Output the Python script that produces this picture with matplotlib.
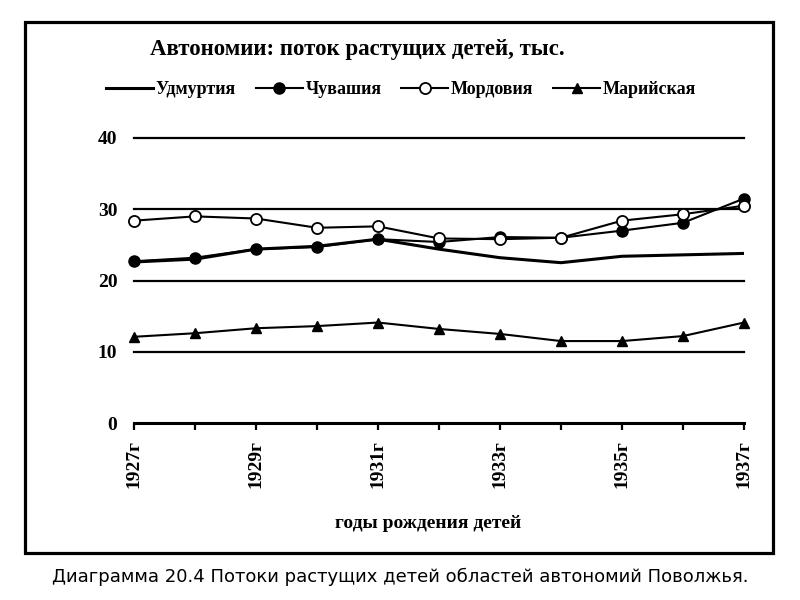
import matplotlib
matplotlib.use("Agg")
import matplotlib.pyplot as plt
from matplotlib.patches import Rectangle

years = [1927, 1928, 1929, 1930, 1931, 1932, 1933, 1934, 1935, 1936, 1937]
udmurtia = [22.6, 23.0, 24.4, 24.8, 25.8, 24.4, 23.2, 22.5, 23.4, 23.6, 23.8]
chuvashia = [22.7, 23.2, 24.4, 24.7, 25.8, 25.4, 26.1, 26.0, 27.0, 28.1, 31.5]
mordovia = [28.4, 29.0, 28.7, 27.4, 27.6, 25.9, 25.8, 26.0, 28.4, 29.3, 30.5]
mariy = [12.1, 12.6, 13.3, 13.6, 14.1, 13.2, 12.5, 11.5, 11.5, 12.2, 14.1]

series_names = ["Удмуртия", "Чувашия", "Мордовия", "Марийская"]
yticks = [0, 10, 20, 30, 40]
xlabels = [f"{y}г" if y % 2 == 1 else "" for y in years]

title = "Автономии: поток растущих детей, тыс."
xlabel = "годы рождения детей"
caption = "Диаграмма 20.4 Потоки растущих детей областей автономий Поволжья."

serif = "Liberation Serif"

fig = plt.figure(figsize=(8, 6), dpi=100)
ax = fig.add_axes([0.1675, 0.295, 0.7625, 0.475])

# horizontal grid lines drawn as solid black rules
for v in yticks[1:]:
    ax.axhline(v, color="black", lw=1.6, zorder=1, clip_on=False)

h1, = ax.plot(years, udmurtia, "-", color="black", lw=2.2, zorder=3)
h2, = ax.plot(years, chuvashia, "o-", color="black", lw=1.5, ms=8,
              mfc="black", zorder=4, clip_on=False)
h3, = ax.plot(years, mordovia, "o-", color="black", lw=1.5, ms=8,
              mfc="white", mew=1.3, zorder=5, clip_on=False)
h4, = ax.plot(years, mariy, "^-", color="black", lw=1.5, ms=7.5,
              mfc="black", zorder=4, clip_on=False)

ax.set_xlim(years[0], years[-1])
ax.set_ylim(0, 40)
for side in ["left", "right", "top"]:
    ax.spines[side].set_visible(False)
ax.spines["bottom"].set_linewidth(2.2)

ax.set_yticks(yticks)
ax.set_yticklabels([str(v) for v in yticks], fontfamily=serif,
                   fontweight="bold", fontsize=14)
ax.tick_params(axis="y", length=0, pad=12)

ax.set_xticks(years)
ax.set_xticklabels(xlabels, rotation=90, fontfamily=serif,
                   fontweight="bold", fontsize=14)
ax.tick_params(axis="x", direction="out", length=5, width=1.6, pad=7)

fig.text(357 / 800, 1 - 50 / 600, title, ha="center", va="center",
         fontfamily=serif, fontweight="bold", fontsize=16.5)

fig.legend([h1, h2, h3, h4], series_names, loc="center",
           bbox_to_anchor=(401 / 800, 1 - 90 / 600), ncol=4, frameon=False,
           prop={"family": serif, "weight": "bold", "size": 13},
           handlelength=2.6, handletextpad=0.15, columnspacing=1.1)

fig.text(428 / 800, 1 - 523 / 600, xlabel, ha="center", va="center",
         fontfamily=serif, fontweight="bold", fontsize=14)

fig.add_artist(Rectangle((25 / 800, 1 - 553 / 600), 748 / 800, 531 / 600,
                         transform=fig.transFigure, fill=False,
                         edgecolor="black", lw=2.3))

fig.text(0.5, 1 - 577 / 600, caption, ha="center", va="center",
         fontfamily="DejaVu Sans", fontsize=13)

fig.savefig("out.png", dpi=100)
